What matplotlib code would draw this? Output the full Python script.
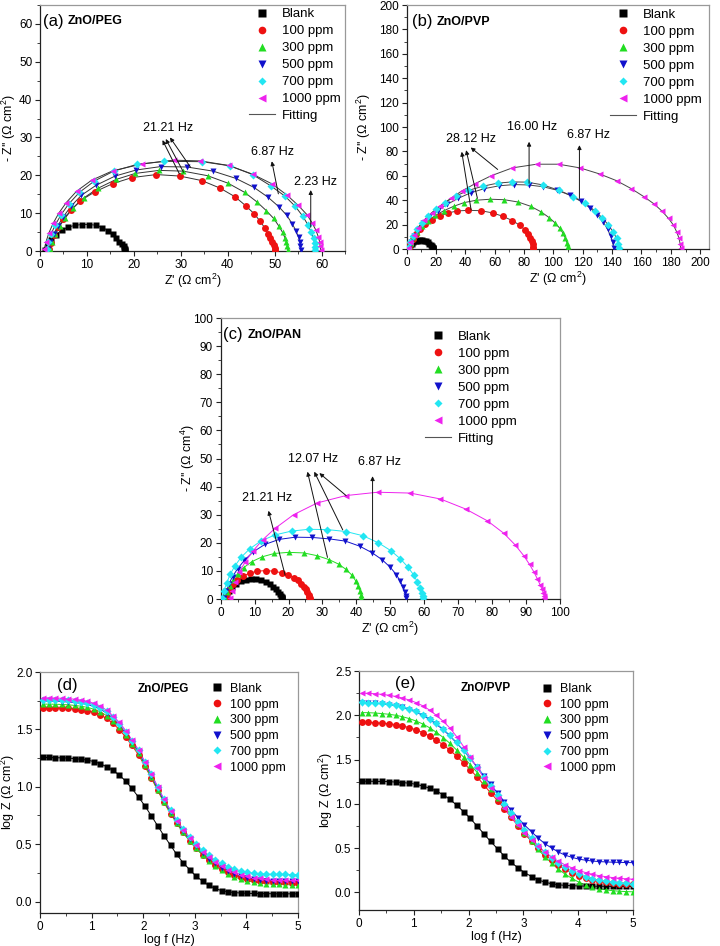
import matplotlib
matplotlib.use("Agg")
import matplotlib.pyplot as plt
from matplotlib.lines import Line2D
from matplotlib.ticker import MultipleLocator, FormatStrFormatter

plt.rcParams['font.family'] = ['Liberation Sans', 'DejaVu Sans']
plt.rcParams['mathtext.fontset'] = 'custom'
plt.rcParams['mathtext.rm'] = 'Liberation Sans'
plt.rcParams['mathtext.it'] = 'Liberation Sans'

# ---------------- data ----------------
labels = ['Blank', '100 ppm', '300 ppm', '500 ppm', '700 ppm', '1000 ppm']
colors = ['#000000', '#ee1111', '#22dd22', '#1111cc', '#22e6f2', '#ee22ee']
markers = ['s', 'o', '^', 'v', 'D', '<']

# Blank (same measurement in all Nyquist panels)
blank_zr = [1.0, 1.6, 2.4, 3.4, 4.6, 6.0, 7.5, 9.0, 10.5, 12.0, 13.3, 14.5, 15.5, 16.3, 16.9, 17.4, 17.8, 18.0, 18.1, 18.2, 18.2]
blank_zi = [0.2, 1.5, 3.0, 4.3, 5.5, 6.3, 6.8, 7.0, 7.0, 6.8, 6.2, 5.4, 4.4, 3.4, 2.5, 1.8, 1.2, 0.8, 0.5, 0.25, 0.05]

# (a) ZnO/PEG
peg_zr = [
    [1.9, 2.3, 3.0, 3.9, 5.0, 6.6, 8.6, 11.8, 15.5, 19.6, 24.8, 29.8, 34.5, 38.4, 41.6, 43.8, 45.6, 46.9, 47.9, 48.6, 49.1, 49.5, 49.8, 50.0, 50.1],
    [2.2, 2.6, 3.3, 4.2, 5.4, 7.0, 9.3, 12.4, 16.2, 20.3, 25.4, 30.5, 35.7, 40.1, 43.6, 46.2, 48.2, 49.8, 50.9, 51.7, 52.2, 52.5, 52.7, 52.8],
    [1.8, 2.2, 2.9, 3.8, 5.0, 6.6, 8.8, 12.0, 16.0, 20.5, 25.7, 31.3, 36.9, 41.7, 45.6, 48.6, 50.9, 52.6, 53.8, 54.6, 55.1, 55.4, 55.5, 55.6],
    [1.4, 1.8, 2.4, 3.3, 4.5, 6.1, 8.4, 11.6, 15.7, 20.7, 26.5, 34.5, 40.5, 45.3, 49.2, 52.2, 54.4, 56.0, 57.1, 57.8, 58.3, 58.5, 58.6, 58.7],
    [0.9, 1.3, 1.9, 2.8, 4.0, 5.6, 7.8, 11.0, 15.5, 21.8, 28.5, 34.2, 40.2, 45.3, 49.5, 52.6, 55.0, 56.9, 58.0, 58.8, 59.3, 59.6, 59.7, 59.8],
]
peg_zi = [
    [0.5, 2.2, 4.2, 6.3, 8.4, 10.8, 13.3, 15.7, 17.8, 19.4, 20.2, 19.8, 18.6, 16.6, 14.3, 12.0, 9.9, 7.9, 6.1, 4.6, 3.4, 2.4, 1.5, 0.8, 0.2],
    [0.5, 2.3, 4.4, 6.6, 8.8, 11.3, 14.0, 16.6, 18.9, 20.5, 21.3, 21.1, 19.9, 17.9, 15.5, 13.0, 10.7, 8.6, 6.6, 4.9, 3.5, 2.3, 1.3, 0.3],
    [0.5, 2.3, 4.4, 6.7, 9.1, 11.8, 14.7, 17.4, 19.8, 21.4, 22.3, 22.2, 21.1, 19.2, 16.8, 14.2, 11.7, 9.4, 7.1, 5.2, 3.6, 2.3, 1.2, 0.3],
    [0.5, 2.4, 4.6, 7.0, 9.6, 12.4, 15.5, 18.5, 21.1, 22.9, 23.7, 23.6, 22.5, 20.2, 17.2, 14.5, 11.8, 9.2, 6.9, 5.0, 3.4, 2.1, 1.0, 0.3],
    [0.5, 2.5, 4.8, 7.3, 10.0, 12.8, 15.8, 18.7, 21.2, 23.0, 24.0, 23.8, 22.6, 20.3, 17.7, 14.8, 12.1, 9.6, 7.4, 5.5, 3.8, 2.4, 1.2, 0.3],
]

# (b) ZnO/PVP
pvp_zr = [
    [1.5, 2.5, 4.0, 6.2, 9.0, 12.8, 17.5, 22.5, 28.0, 34.5, 42.0, 50.5, 58.5, 65.5, 72.0, 77.0, 80.5, 82.8, 84.3, 85.2, 85.8, 86.1, 86.2],
    [1.5, 2.8, 4.5, 7.0, 10.3, 14.5, 19.5, 25.5, 32.0, 39.0, 47.5, 57.0, 66.5, 76.0, 84.5, 91.5, 97.0, 101.2, 104.3, 106.6, 108.2, 109.2, 109.8, 110.0],
    [1.5, 2.8, 4.8, 7.5, 11.0, 15.5, 21.0, 27.5, 35.0, 43.5, 53.0, 63.0, 73.0, 83.0, 93.0, 102.5, 111.0, 118.5, 124.8, 130.0, 134.0, 137.0, 139.0, 140.3, 141.0],
    [1.0, 2.3, 4.2, 6.8, 10.2, 14.5, 19.8, 26.0, 33.5, 42.0, 52.0, 62.0, 72.0, 82.0, 93.0, 104.0, 113.5, 121.5, 128.0, 133.3, 137.5, 140.7, 143.0, 144.3, 145.0],
    [1.0, 2.5, 4.8, 8.0, 12.0, 17.0, 23.0, 30.0, 37.5, 46.5, 57.5, 72.0, 88.5, 103.5, 118.0, 131.5, 143.0, 153.0, 161.5, 168.5, 174.0, 178.5, 181.8, 184.0, 185.5, 186.3, 186.7],
]
pvp_zi = [
    [1.0, 4.5, 8.5, 12.5, 16.5, 20.2, 24.0, 27.0, 29.5, 31.2, 31.7, 31.4, 29.6, 26.8, 23.3, 19.5, 15.8, 12.3, 9.0, 6.2, 3.8, 1.8, 0.3],
    [1.0, 5.0, 9.5, 14.0, 18.5, 23.0, 27.5, 31.5, 35.0, 38.0, 40.0, 40.8, 40.4, 38.5, 35.0, 30.5, 25.8, 21.3, 17.0, 12.8, 8.8, 5.2, 2.3, 0.3],
    [1.0, 5.5, 10.5, 15.5, 21.0, 26.5, 31.5, 36.5, 41.5, 46.0, 49.5, 51.8, 52.8, 52.5, 51.0, 48.2, 44.2, 39.2, 33.8, 28.0, 22.0, 16.0, 10.5, 5.5, 1.0],
    [1.0, 5.5, 10.5, 16.0, 21.5, 27.0, 32.5, 38.0, 43.5, 48.0, 51.5, 54.0, 55.0, 54.8, 52.5, 48.0, 43.0, 37.5, 31.5, 25.5, 19.5, 14.0, 8.8, 4.5, 0.8],
    [1.0, 6.0, 11.5, 17.5, 23.5, 29.5, 35.5, 41.5, 47.5, 53.5, 60.0, 66.5, 69.5, 69.5, 66.5, 61.5, 56.0, 49.5, 43.0, 37.0, 31.0, 25.0, 19.5, 14.0, 9.0, 4.5, 0.8],
]

# (c) ZnO/PAN
pan_zr = [
    [1.5, 2.0, 2.7, 3.6, 4.8, 6.5, 8.5, 10.8, 13.3, 15.8, 18.0, 19.9, 21.5, 22.8, 23.8, 24.6, 25.2, 25.6, 25.9, 26.1, 26.2],
    [1.2, 1.8, 2.6, 3.6, 5.0, 6.8, 9.2, 12.2, 15.8, 20.0, 24.5, 28.5, 32.0, 34.8, 37.0, 38.7, 39.8, 40.6, 41.1, 41.4, 41.5],
    [1.0, 1.6, 2.4, 3.5, 5.0, 7.0, 9.6, 13.0, 17.2, 22.0, 27.0, 32.0, 36.8, 41.0, 44.6, 47.6, 50.0, 51.8, 53.0, 53.8, 54.3, 54.6, 54.8],
    [0.5, 1.0, 1.8, 2.8, 4.2, 6.0, 8.5, 11.8, 16.0, 21.0, 26.0, 31.5, 37.0, 42.0, 46.5, 50.2, 53.0, 55.2, 56.9, 58.0, 58.8, 59.3, 59.6, 59.7],
    [2.8, 3.3, 4.2, 5.5, 7.2, 9.6, 12.4, 16.0, 21.5, 28.5, 36.9, 46.3, 55.9, 64.8, 72.3, 78.7, 83.5, 86.9, 89.4, 91.1, 92.4, 93.4, 94.2, 94.8, 95.2, 95.4, 95.5],
]
pan_zi = [
    [0.5, 2.0, 3.6, 5.2, 6.7, 8.1, 9.2, 9.9, 10.1, 9.9, 9.3, 8.5, 7.6, 6.6, 5.5, 4.4, 3.4, 2.4, 1.5, 0.8, 0.2],
    [0.5, 2.5, 4.6, 6.8, 9.0, 11.2, 13.3, 15.0, 16.2, 16.6, 16.4, 15.4, 14.0, 12.4, 10.5, 8.5, 6.5, 4.6, 2.9, 1.5, 0.3],
    [0.5, 2.8, 5.3, 8.0, 10.8, 13.8, 16.8, 19.4, 21.2, 22.0, 21.9, 21.4, 20.6, 18.8, 16.5, 14.0, 11.3, 8.7, 6.3, 4.2, 2.5, 1.2, 0.3],
    [0.5, 3.0, 5.8, 8.8, 11.8, 14.8, 17.8, 20.6, 22.8, 24.2, 24.8, 24.7, 24.0, 22.5, 20.0, 17.2, 14.3, 11.4, 8.6, 6.1, 4.0, 2.3, 1.0, 0.2],
    [0.5, 3.0, 6.0, 9.5, 13.2, 17.2, 21.1, 25.1, 30.0, 34.2, 36.8, 38.0, 37.7, 35.6, 32.0, 27.8, 23.4, 19.2, 15.4, 12.3, 9.6, 7.2, 5.1, 3.4, 2.0, 1.0, 0.2],
]

# Bode: log f grid
log_f = [0.05, 0.17, 0.30, 0.42, 0.55, 0.67, 0.79, 0.92, 1.04, 1.17, 1.29, 1.41, 1.54, 1.66, 1.78, 1.91, 2.03,
         2.16, 2.28, 2.40, 2.53, 2.65, 2.77, 2.90, 3.02, 3.15, 3.27, 3.39, 3.52, 3.64, 3.76, 3.89, 4.01, 4.14,
         4.26, 4.38, 4.51, 4.63, 4.75, 4.88, 5.00]

blank_logz = [1.255, 1.255, 1.253, 1.252, 1.250, 1.245, 1.240, 1.232, 1.220, 1.200, 1.175, 1.145, 1.100, 1.050,
              0.985, 0.910, 0.835, 0.745, 0.660, 0.575, 0.490, 0.410, 0.340, 0.278, 0.222, 0.178, 0.140, 0.115,
              0.095, 0.085, 0.078, 0.074, 0.072, 0.070, 0.069, 0.068, 0.068, 0.067, 0.067, 0.067, 0.067]

peg_logz = [
    [1.690, 1.690, 1.689, 1.687, 1.684, 1.680, 1.673, 1.663, 1.648, 1.626, 1.595, 1.552, 1.498, 1.432, 1.360, 1.278,
     1.180, 1.074, 0.968, 0.865, 0.766, 0.680, 0.603, 0.528, 0.466, 0.408, 0.360, 0.318, 0.282, 0.253, 0.230, 0.212,
     0.198, 0.188, 0.180, 0.175, 0.171, 0.168, 0.166, 0.165, 0.165],
    [1.720, 1.720, 1.719, 1.717, 1.714, 1.709, 1.702, 1.692, 1.676, 1.653, 1.620, 1.575, 1.518, 1.450, 1.374, 1.290,
     1.190, 1.082, 0.975, 0.870, 0.770, 0.683, 0.604, 0.528, 0.464, 0.405, 0.354, 0.310, 0.272, 0.240, 0.215, 0.195,
     0.180, 0.170, 0.162, 0.156, 0.152, 0.149, 0.147, 0.146, 0.145],
    [1.745, 1.745, 1.744, 1.742, 1.739, 1.734, 1.727, 1.717, 1.700, 1.676, 1.642, 1.596, 1.538, 1.468, 1.390, 1.305,
     1.205, 1.096, 0.988, 0.882, 0.782, 0.695, 0.618, 0.543, 0.480, 0.422, 0.373, 0.332, 0.296, 0.266, 0.241, 0.222,
     0.207, 0.196, 0.188, 0.183, 0.180, 0.178, 0.176, 0.175, 0.175],
    [1.760, 1.760, 1.759, 1.757, 1.754, 1.749, 1.742, 1.731, 1.714, 1.690, 1.656, 1.610, 1.550, 1.480, 1.402, 1.317,
     1.217, 1.108, 1.000, 0.895, 0.796, 0.710, 0.634, 0.562, 0.502, 0.448, 0.402, 0.364, 0.332, 0.305, 0.283, 0.267,
     0.255, 0.247, 0.242, 0.239, 0.237, 0.236, 0.236, 0.235, 0.235],
    [1.775, 1.775, 1.773, 1.771, 1.768, 1.763, 1.756, 1.745, 1.728, 1.703, 1.668, 1.620, 1.560, 1.490, 1.410, 1.322,
     1.220, 1.110, 1.000, 0.893, 0.792, 0.705, 0.627, 0.553, 0.490, 0.433, 0.384, 0.343, 0.308, 0.278, 0.254, 0.235,
     0.220, 0.209, 0.201, 0.195, 0.191, 0.188, 0.186, 0.185, 0.184],
]

pvp_logz = [
    [1.920, 1.919, 1.916, 1.911, 1.904, 1.894, 1.880, 1.860, 1.835, 1.803, 1.765, 1.720, 1.665, 1.605, 1.538, 1.462,
     1.385, 1.300, 1.212, 1.125, 1.035, 0.945, 0.852, 0.752, 0.662, 0.575, 0.495, 0.425, 0.360, 0.305, 0.258, 0.218,
     0.186, 0.160, 0.140, 0.125, 0.113, 0.104, 0.098, 0.094, 0.091],
    [2.030, 2.029, 2.025, 2.019, 2.011, 2.000, 1.984, 1.962, 1.935, 1.900, 1.858, 1.808, 1.748, 1.682, 1.608, 1.526,
     1.442, 1.352, 1.258, 1.165, 1.068, 0.972, 0.872, 0.770, 0.672, 0.575, 0.485, 0.402, 0.328, 0.262, 0.205, 0.156,
     0.115, 0.083, 0.058, 0.040, 0.027, 0.018, 0.012, 0.008, 0.005],
    [2.140, 2.139, 2.135, 2.129, 2.120, 2.107, 2.089, 2.065, 2.035, 1.997, 1.952, 1.898, 1.835, 1.765, 1.687, 1.600,
     1.510, 1.413, 1.315, 1.218, 1.120, 1.025, 0.932, 0.843, 0.760, 0.683, 0.612, 0.550, 0.498, 0.455, 0.420, 0.394,
     0.375, 0.362, 0.353, 0.347, 0.343, 0.340, 0.338, 0.336, 0.335],
    [2.145, 2.144, 2.140, 2.134, 2.125, 2.112, 2.095, 2.072, 2.043, 2.006, 1.962, 1.908, 1.845, 1.774, 1.694, 1.605,
     1.512, 1.412, 1.308, 1.205, 1.100, 0.998, 0.895, 0.795, 0.700, 0.610, 0.528, 0.455, 0.390, 0.333, 0.284, 0.242,
     0.207, 0.178, 0.155, 0.137, 0.124, 0.114, 0.107, 0.102, 0.099],
    [2.250, 2.248, 2.243, 2.236, 2.226, 2.212, 2.195, 2.172, 2.143, 2.105, 2.058, 2.000, 1.930, 1.855, 1.760, 1.645,
     1.525, 1.405, 1.290, 1.175, 1.060, 0.955, 0.855, 0.760, 0.672, 0.590, 0.518, 0.455, 0.398, 0.350, 0.310, 0.275,
     0.246, 0.222, 0.203, 0.188, 0.176, 0.166, 0.158, 0.152, 0.148],
]

# Frequency annotations: (text, text_xy, [(tail), ...], [(head), ...])
peg_notes = [
    ('21.21 Hz', (27.2, 32.4), [(29.7, 20.4), (30.6, 20.8), (32.1, 22.1)], [(26.1, 29.3), (26.8, 29.6), (27.7, 30.0)]),
    ('6.87 Hz', (49.5, 26.1), [(50.8, 15.1)], [(49.4, 23.7)]),
    ('2.23 Hz', (58.7, 18.3), [(57.7, 6.3)], [(57.7, 16.1)]),
]
pvp_notes = [
    ('28.12 Hz', (43.6, 90.0), [(43.9, 31.9), (48.2, 41.5), (62.0, 65.2)], [(37.5, 79.7), (40.5, 81.0), (43.6, 83.2)]),
    ('16.00 Hz', (85.2, 99.6), [(83.4, 53.8)], [(83.4, 87.9)]),
    ('6.87 Hz', (123.9, 93.3), [(117.7, 41.5)], [(117.7, 85.1)]),
]
pan_notes = [
    ('21.21 Hz', (13.6, 35.8), [(19.0, 8.5)], [(14.1, 31.4)]),
    ('12.07 Hz', (27.2, 49.8), [(31.5, 14.8), (36.0, 24.6), (37.0, 36.8)], [(25.6, 45.3), (27.6, 45.3), (29.1, 44.8)]),
    ('6.87 Hz', (46.9, 48.9), [(44.8, 17.2)], [(44.8, 43.7)]),
]

# ---------------- drawing ----------------
W, H = 720, 946
fig = plt.figure(figsize=(7.2, 9.46), dpi=100)


def rect(l, t, r, b):
    return [l / W, 1 - b / H, (r - l) / W, (b - t) / H]


def style_axes(ax):
    for s in ['left', 'bottom']:
        ax.spines[s].set_color('#222222')
        ax.spines[s].set_linewidth(0.9)
    for s in ['top', 'right']:
        ax.spines[s].set_color('#999999')
        ax.spines[s].set_linewidth(0.9)
    ax.tick_params(which='major', direction='out', length=3.5, width=0.8, labelsize=8.5, pad=2, color='#222222')
    ax.tick_params(which='minor', direction='out', length=2, width=0.6, color='#222222')


def msize(m, base):
    return base * 0.8 if m == 'D' else base


def nyquist(ax, zr_list, zi_list, fit_colors, notes):
    series_x = [blank_zr] + zr_list
    series_y = [blank_zi] + zi_list
    for i in range(6):
        ax.plot(series_x[i], series_y[i], color=fit_colors[i], lw=0.7, zorder=2)
    for i in range(6):
        ax.plot(series_x[i], series_y[i], ls='none', marker=markers[i], color=colors[i],
                ms=msize(markers[i], 5.0), mec='none', zorder=3)
    for text, txy, tails, heads in notes:
        ax.text(txy[0], txy[1], text, fontsize=9, ha='center', va='center', zorder=5)
        for tl, hd in zip(tails, heads):
            ax.annotate('', xy=hd, xytext=tl,
                        arrowprops=dict(arrowstyle='-|>', lw=0.7, color='#111111',
                                        mutation_scale=6, shrinkA=0, shrinkB=0), zorder=4)


def add_legend(ax, x0, y0, with_fit, hl, spacing, fs=9.5):
    handles = [Line2D([], [], ls='none', marker=markers[i], color=colors[i], mec='none',
                      ms=msize(markers[i], 5.5)) for i in range(6)]
    labs = list(labels)
    if with_fit:
        handles.append(Line2D([], [], color='#555555', lw=0.8))
        labs.append('Fitting')
    ax.legend(handles, labs, loc='upper left', bbox_to_anchor=(x0, y0), frameon=False, fontsize=fs,
              handlelength=hl, handletextpad=0.5, labelspacing=spacing, borderpad=0, borderaxespad=0,
              numpoints=1)


def panel_label(ax, x1, x2, y, tag, name, tagsize=12):
    ax.text(x1, y, tag, transform=ax.transAxes, fontsize=tagsize, ha='left', va='center')
    ax.text(x2, y, name, transform=ax.transAxes, fontsize=9, fontweight='bold', ha='left', va='center')


zlab_x = "Z' (\u03a9 cm$^2$)"

# (a)
ax = fig.add_axes(rect(40, 5, 345, 251))
nyquist(ax, peg_zr, peg_zi, ['#333333'] * 6, peg_notes)
ax.set_xlim(0, 65); ax.set_ylim(0, 65)
ax.xaxis.set_major_locator(MultipleLocator(10)); ax.xaxis.set_minor_locator(MultipleLocator(5))
ax.yaxis.set_major_locator(MultipleLocator(10)); ax.yaxis.set_minor_locator(MultipleLocator(5))
style_axes(ax)
ax.set_xlabel(zlab_x, fontsize=9, labelpad=1)
ax.set_ylabel("- Z'' (\u03a9 cm$^2$)", fontsize=9)
ax.yaxis.set_label_coords(-0.072, 0.5)
panel_label(ax, 0.01, 0.092, 0.933, '(a)', 'ZnO/PEG')
add_legend(ax, 0.685, 0.988, True, 2.0, 0.36)

# (b)
ax = fig.add_axes(rect(406.7, 5, 709, 249))
nyquist(ax, pvp_zr, pvp_zi, ['#444444'] * 6, pvp_notes)
ax.set_xlim(0, 206); ax.set_ylim(0, 200)
ax.xaxis.set_major_locator(MultipleLocator(20)); ax.xaxis.set_minor_locator(MultipleLocator(10))
ax.yaxis.set_major_locator(MultipleLocator(20)); ax.yaxis.set_minor_locator(MultipleLocator(10))
style_axes(ax)
ax.set_xlabel(zlab_x, fontsize=9, labelpad=1)
ax.set_ylabel("- Z'' (\u03a9 cm$^2$)", fontsize=9)
ax.yaxis.set_label_coords(-0.113, 0.5)
panel_label(ax, 0.018, 0.10, 0.932, '(b)', 'ZnO/PVP')
add_legend(ax, 0.672, 0.985, True, 2.0, 0.36)

# (c)
ax = fig.add_axes(rect(220.7, 318, 559.7, 599))
nyquist(ax, pan_zr, pan_zi, colors, pan_notes)
ax.set_xlim(0, 100); ax.set_ylim(0, 100)
ax.xaxis.set_major_locator(MultipleLocator(10)); ax.xaxis.set_minor_locator(MultipleLocator(5))
ax.yaxis.set_major_locator(MultipleLocator(10)); ax.yaxis.set_minor_locator(MultipleLocator(5))
style_axes(ax)
ax.set_xlabel(zlab_x, fontsize=9, labelpad=1)
ax.set_ylabel("- Z'' (\u03a9 cm$^4$)", fontsize=9)
ax.yaxis.set_label_coords(-0.071, 0.5)
panel_label(ax, 0.007, 0.08, 0.94, '(c)', 'ZnO/PAN')
add_legend(ax, 0.602, 0.955, True, 2.0, 0.36)


def bode(ax, logz_list, ylim, label_x):
    series = [blank_logz] + logz_list
    for i in range(6):
        ax.plot(log_f, series[i], color=colors[i], lw=0.7, zorder=2)
    for i in range(6):
        ax.plot(log_f, series[i], ls='none', marker=markers[i], color=colors[i],
                ms=msize(markers[i], 5.0), mec='none', zorder=3)
    ax.set_xlim(0, 5); ax.set_ylim(*ylim)
    ax.xaxis.set_major_locator(MultipleLocator(1)); ax.xaxis.set_minor_locator(MultipleLocator(0.5))
    ax.yaxis.set_major_locator(MultipleLocator(0.5)); ax.yaxis.set_minor_locator(MultipleLocator(0.25))
    ax.yaxis.set_major_formatter(FormatStrFormatter('%.1f'))
    style_axes(ax)
    ax.set_xlabel('log f (Hz)', fontsize=9, labelpad=1)
    ax.set_ylabel('log Z (\u03a9 cm$^2$)', fontsize=9)
    ax.yaxis.set_label_coords(label_x, 0.5)


# (d)
ax = fig.add_axes(rect(40, 672, 298, 913))
bode(ax, peg_logz, (-0.1, 2.0), -0.09)
ax.text(0.066, 0.946, '(d)', transform=ax.transAxes, fontsize=12, ha='left', va='center')
ax.text(0.38, 0.93, 'ZnO/PEG', transform=ax.transAxes, fontsize=8.5, fontweight='bold', ha='left', va='center')
add_legend(ax, 0.663, 0.955, False, 1.0, 0.3, fs=9)

# (e)
ax = fig.add_axes(rect(359, 671, 633, 910))
bode(ax, pvp_logz, (-0.2, 2.5), -0.088)
ax.text(0.13, 0.946, '(e)', transform=ax.transAxes, fontsize=12, ha='left', va='center')
ax.text(0.37, 0.93, 'ZnO/PVP', transform=ax.transAxes, fontsize=8.5, fontweight='bold', ha='left', va='center')
add_legend(ax, 0.664, 0.95, False, 1.0, 0.3, fs=9)

fig.savefig('out.png', dpi=100)
